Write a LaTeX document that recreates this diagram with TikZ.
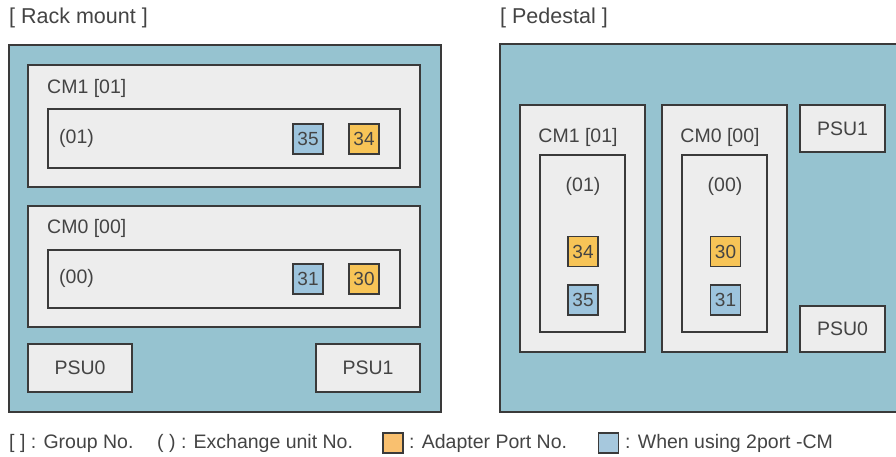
\documentclass[tikz,border=0pt]{standalone}
\usepackage{fontspec}
\setmainfont{Liberation Sans}
\definecolor{bgblue}{HTML}{96C3D0}
\definecolor{boxgray}{HTML}{EDEDED}
\definecolor{portorange}{HTML}{F7C457}
\definecolor{portblue}{HTML}{9DC4DD}
\definecolor{legorange}{HTML}{F9C06F}
\definecolor{legblue}{HTML}{A6C8DD}
\definecolor{txt}{HTML}{444444}
\definecolor{edge}{HTML}{3A3A3A}
\tikzset{
  panel/.style={draw=edge, line width=1.4pt, fill=bgblue},
  unitbox/.style={draw=edge, line width=1.4pt, fill=boxgray},
  lbl/.style={font=\fontsize{19.5}{21}\selectfont, text=txt, inner sep=0pt},
  ttl/.style={font=\fontsize{21.5}{23}\selectfont, text=txt, inner sep=0pt},
  portbox/.style={draw=edge, line width=1.2pt, minimum width=30pt, minimum height=30pt, inner sep=0pt, font=\fontsize{19}{21}\selectfont, text=txt},
  orport/.style={portbox, fill=portorange},
  blport/.style={portbox, fill=portblue},
}
\begin{document}
\begin{tikzpicture}[x=1pt,y=-1pt]
\clip (0,0) rectangle (896,456);
\fill[white] (0,0) rectangle (896,456);
% titles
\node[ttl, anchor=west] (t1) at (9,18) {[ Rack mount ]};
\node[ttl, anchor=west] (t2) at (500,18) {[ Pedestal ]};
% ---------- Rack mount ----------
\draw[panel] (9,45) rectangle (441,412);
\draw[unitbox] (28,65) rectangle (420,187);
\node[lbl, anchor=west] (rcm1) at (47,88) {CM1 [01]};
\draw[unitbox] (48,109) rectangle (400,168);
\node[lbl, anchor=west] (rx01) at (59,138) {(01)};
\node[blport] (r35) at (308,139) {35};
\node[orport] (r34) at (364,139) {34};
\draw[unitbox] (28,206) rectangle (420,327);
\node[lbl, anchor=west] (rcm0) at (47,228) {CM0 [00]};
\draw[unitbox] (48,250) rectangle (400,308);
\node[lbl, anchor=west] (rx00) at (59,278) {(00)};
\node[blport] (r31) at (308,279) {31};
\node[orport] (r30) at (364,279) {30};
\node[unitbox, minimum width=104pt, minimum height=48pt, inner sep=0pt, lbl] (rpsu0) at (80,368) {PSU0};
\node[unitbox, minimum width=104pt, minimum height=48pt, inner sep=0pt, lbl] (rpsu1) at (368,368) {PSU1};
% ---------- Pedestal ----------
\draw[panel] (500,44) rectangle (905,412);
\draw[unitbox] (520,105) rectangle (645,352);
\node[lbl] (pcm1) at (578,137) {CM1 [01]};
\draw[unitbox] (540,155) rectangle (625,332);
\node[lbl] (px01) at (583,186) {(01)};
\node[orport] (p34) at (583,251.5) {34};
\node[blport] (p35) at (583,300) {35};
\draw[unitbox] (662,105) rectangle (787,352);
\node[lbl] (pcm0) at (720,137) {CM0 [00]};
\draw[unitbox] (682,155) rectangle (767,332);
\node[lbl] (px00) at (725,186) {(00)};
\node[orport] (p30) at (725.5,251.5) {30};
\node[blport] (p31) at (725.5,300) {31};
\node[unitbox, minimum width=85pt, minimum height=47pt, inner sep=0pt, lbl] (ppsu1) at (842.5,128.5) {PSU1};
\node[unitbox, minimum width=85pt, minimum height=46pt, inner sep=0pt, lbl] (ppsu0) at (842.5,329) {PSU0};
% ---------- Legend ----------
\node[lbl, anchor=west] (l1) at (9,443) {[ ] : Group No.};
\node[lbl, anchor=west] (l2) at (157,443) {( ) : Exchange unit No.};
\node[draw=edge, line width=1.2pt, fill=legorange, minimum width=20pt, minimum height=20pt, inner sep=0pt] (lo) at (393,443) {};
\node[lbl, anchor=west] (l3) at (409,443) {: Adapter Port No.};
\node[draw=edge, line width=1.2pt, fill=legblue, minimum width=20pt, minimum height=20pt, inner sep=0pt] (lb) at (608.5,443) {};
\node[lbl, anchor=west] (l4) at (625,443) {: When using 2port -CM};
\end{tikzpicture}
\end{document}
